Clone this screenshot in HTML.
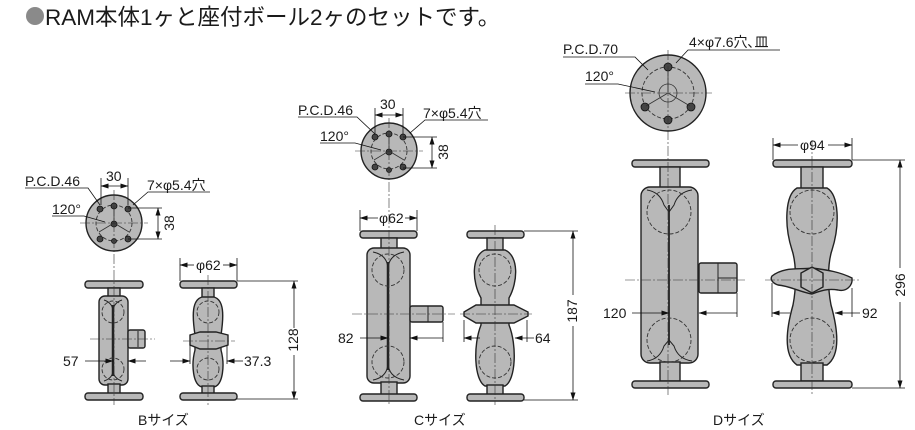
<!DOCTYPE html>
<html><head><meta charset="utf-8"><style>
html,body{margin:0;padding:0;background:#fff;}
svg{display:block}
text{font-family:"Liberation Sans","Noto Sans CJK JP",sans-serif;fill:#1a1a1a}
</style></head><body>
<svg width="915" height="430" viewBox="0 0 915 430" xmlns="http://www.w3.org/2000/svg">
<defs>
<marker id="a" markerWidth="8" markerHeight="6" refX="7.5" refY="3" orient="auto-start-reverse" markerUnits="userSpaceOnUse"><path d="M0,0.5 L8,3 L0,5.5z" fill="#111"/></marker>
</defs>
<circle cx="35" cy="16" r="9" fill="#8a8a8a"/>
<text x="45" y="25" font-size="22.5">RAM本体1ヶと座付ボール2ヶのセットです。</text>

<g stroke="#222" stroke-width="1.4" fill="#b8b8b8">
<circle cx="114" cy="223" r="28"/>
<rect x="85" y="281" width="58" height="7" rx="3"/>
<rect x="108" y="288" width="12" height="10"/>
<rect x="99" y="296" width="29" height="89" rx="6"/>
<rect x="128" y="330" width="17" height="18" rx="2"/>
<rect x="108" y="384" width="12" height="10"/>
<rect x="85" y="393" width="58" height="7" rx="3"/>
<rect x="180" y="281" width="57" height="7" rx="3"/>
<rect x="202" y="288" width="12" height="10"/>
<path d="M202,297 C192,300 192,315 195,335 L195,350 C191,365 193,385 202,387 L214,387 C223,385 225,365 221,350 L221,335 C224,315 224,300 214,297Z"/>
<path d="M190,335 L200,332 L216,332 L228,335 L228,345 L216,349 L200,349 L190,345Z"/>
<rect x="202" y="386" width="12" height="8"/>
<rect x="180" y="393" width="57" height="7" rx="3"/>

<circle cx="389" cy="151" r="28"/>
<rect x="360" y="231" width="57" height="7" rx="3"/>
<rect x="381" y="238" width="16" height="12"/>
<rect x="367" y="248" width="43" height="135" rx="7"/>
<rect x="410" y="306" width="33" height="16" rx="2"/>
<rect x="381" y="382" width="16" height="13"/>
<rect x="360" y="394" width="57" height="7" rx="3"/>
<rect x="467" y="231" width="57" height="7" rx="3"/>
<rect x="487" y="238" width="16" height="13"/>
<path d="M485,250 C471,256 472,282 481,298 L481,325 C473,345 474,380 485,386 L505,386 C516,380 517,345 509,325 L509,298 C518,282 519,256 505,250Z"/>
<path d="M464,312 L476,305 L514,305 L528,312 L528,316 L514,323 L476,323 L464,316Z"/>
<rect x="487" y="385" width="16" height="10"/>
<rect x="467" y="394" width="57" height="7" rx="3"/>

<circle cx="668" cy="93" r="38"/>
<rect x="632" y="160" width="77" height="7" rx="3"/>
<rect x="660" y="167" width="20" height="21"/>
<rect x="641" y="187" width="57" height="176" rx="9"/>
<rect x="699" y="263" width="38" height="30" rx="2"/>
<rect x="660" y="362" width="20" height="19"/>
<rect x="632" y="381" width="77" height="7" rx="3"/>
<rect x="773" y="160" width="79" height="7" rx="3"/>
<rect x="801" y="167" width="22" height="23"/>
<path d="M797,188 C785,195 784,225 792,250 C797,265 796,290 793,305 C786,330 783,355 797,365 L827,365 C841,355 838,330 831,305 C828,290 827,265 832,250 C840,225 839,195 827,188Z"/>
<path d="M772,276 C785,266 800,270 812,268 C828,270 840,272 852,278 C853,286 846,292 838,290 C826,288 818,292 812,294 C800,292 790,286 778,285 C772,283 770,279 772,276Z"/>
<polygon points="812,267 823,273 823,287 812,293 801,287 801,273"/>
<rect x="801" y="363" width="22" height="18"/>
<rect x="773" y="381" width="79" height="7" rx="3"/>
</g>

<g stroke="#222" stroke-width="1" fill="none">
<line x1="113" y1="305" x2="113" y2="376" stroke-width="2.5"/>
<path d="M104,300 Q113,303 113,312 M122,300 Q113,303 113,312 M104,381 Q113,378 113,370 M122,381 Q113,378 113,370"/>
<line x1="388" y1="262" x2="388" y2="370" stroke-width="2.5"/>
<path d="M373,252 Q388,255 388,270 M404,252 Q388,255 388,270 M373,380 Q388,377 388,362 M404,380 Q388,377 388,362"/>
<line x1="669" y1="205" x2="669" y2="345" stroke-width="1.8"/>
<path d="M647,190 Q660,192 664,205 L669,212 L674,205 Q678,192 692,190 M647,361 Q660,359 664,346 L669,340 L674,346 Q678,359 692,361"/>
<line x1="138" y1="331" x2="138" y2="347"/>
<line x1="428" y1="306" x2="428" y2="322"/>
<line x1="718" y1="263" x2="718" y2="293"/>
<path d="M718,278 L737,278"/>
</g>
<g stroke="#333" stroke-width="0.9" fill="none" stroke-dasharray="4,2">
<circle cx="113" cy="312" r="11"/><circle cx="113" cy="369" r="11"/>
<circle cx="208" cy="312" r="11"/><circle cx="208" cy="369" r="11"/>
<circle cx="388" cy="270" r="16"/><circle cx="388" cy="362" r="16"/>
<circle cx="495" cy="270" r="16"/><circle cx="495" cy="362" r="16"/>
<circle cx="669" cy="212" r="22"/><circle cx="669" cy="340" r="22"/>
<circle cx="812" cy="212" r="22"/><circle cx="812" cy="340" r="22"/>
<circle cx="114" cy="223" r="18"/><circle cx="389" cy="151" r="18"/><circle cx="668" cy="93" r="26"/>
</g>
<g fill="#444" stroke="#111" stroke-width="0.8">
<circle cx="100" cy="209" r="3"/><circle cx="114" cy="206" r="3"/><circle cx="128" cy="209" r="3"/>
<circle cx="114" cy="224" r="3"/><circle cx="100" cy="239" r="3"/><circle cx="128" cy="239" r="3"/><circle cx="114" cy="241" r="2.5"/>
<circle cx="375" cy="137" r="3"/><circle cx="389" cy="134" r="3"/><circle cx="403" cy="137" r="3"/>
<circle cx="389" cy="152" r="3"/><circle cx="375" cy="167" r="3"/><circle cx="403" cy="167" r="3"/><circle cx="389" cy="170" r="2.5"/>
<circle cx="668" cy="67" r="4"/><circle cx="645" cy="107" r="4"/><circle cx="691" cy="107" r="4"/><circle cx="668" cy="120" r="4"/>
</g>
<g stroke="#333" stroke-width="0.8" fill="none">
<path d="M114,223 L114,206 M114,223 L99,232 M114,223 L129,232"/>
<path d="M389,151 L389,134 M389,151 L374,160 M389,151 L404,160"/>
<circle cx="668" cy="93" r="9"/>
<path d="M668,93 L668,68 M668,93 L646,106 M668,93 L690,106"/>
</g>

<g stroke="#333" stroke-width="0.6" fill="none" stroke-dasharray="10,2,2,2">
<line x1="114" y1="190" x2="114" y2="405"/><line x1="80" y1="223" x2="148" y2="223"/>
<line x1="208" y1="275" x2="208" y2="405"/>
<line x1="90" y1="339" x2="155" y2="339"/><line x1="183" y1="341" x2="235" y2="341"/>
<line x1="389" y1="118" x2="389" y2="405"/><line x1="355" y1="151" x2="423" y2="151"/>
<line x1="495" y1="225" x2="495" y2="405"/>
<line x1="352" y1="314" x2="455" y2="314"/><line x1="460" y1="314" x2="532" y2="314"/>
<line x1="668" y1="50" x2="668" y2="395"/><line x1="625" y1="93" x2="712" y2="93"/>
<line x1="812" y1="140" x2="812" y2="395"/>
<line x1="625" y1="280" x2="745" y2="280"/><line x1="765" y1="280" x2="860" y2="280"/>
</g>

<g stroke="#111" stroke-width="0.8" fill="none">
<path d="M25,188 L88,188 L100,205"/>
<path d="M52,216 L84,216 L105,222"/>
<line x1="101" y1="178" x2="101" y2="205"/><line x1="128" y1="178" x2="128" y2="205"/>
<line x1="101" y1="186" x2="128" y2="186" marker-start="url(#a)" marker-end="url(#a)"/>
<path d="M210,192 L148,192 L133,205"/>
<line x1="128" y1="208" x2="162" y2="208"/><line x1="128" y1="239" x2="162" y2="239"/>
<line x1="158" y1="208" x2="158" y2="239" marker-start="url(#a)" marker-end="url(#a)"/>
<line x1="180" y1="258" x2="180" y2="281"/><line x1="237" y1="258" x2="237" y2="281"/>
<line x1="180" y1="265" x2="194" y2="265" marker-start="url(#a)"/><line x1="223" y1="265" x2="237" y2="265" marker-end="url(#a)"/>
<line x1="85" y1="361" x2="113" y2="361" marker-end="url(#a)"/><line x1="128" y1="361" x2="146" y2="361" marker-start="url(#a)"/>
<line x1="170" y1="361" x2="190" y2="361" marker-end="url(#a)"/><line x1="227" y1="361" x2="243" y2="361" marker-start="url(#a)"/>
<line x1="190" y1="345" x2="190" y2="364"/><line x1="227" y1="345" x2="227" y2="364"/>
<line x1="237" y1="281" x2="298" y2="281"/><line x1="237" y1="399" x2="298" y2="399"/>
<line x1="294" y1="281" x2="294" y2="328" marker-start="url(#a)"/><line x1="294" y1="355" x2="294" y2="399" marker-end="url(#a)"/>
<path d="M298,117 L357,117 L375,134"/>
<path d="M320,143 L355,143 L381,150"/>
<line x1="375" y1="108" x2="375" y2="134"/><line x1="403" y1="108" x2="403" y2="134"/>
<line x1="375" y1="115" x2="403" y2="115" marker-start="url(#a)" marker-end="url(#a)"/>
<path d="M488,120 L425,120 L410,133"/>
<line x1="403" y1="137" x2="437" y2="137"/><line x1="403" y1="168" x2="437" y2="168"/>
<line x1="432" y1="137" x2="432" y2="168" marker-start="url(#a)" marker-end="url(#a)"/>
<line x1="360" y1="210" x2="360" y2="231"/><line x1="417" y1="210" x2="417" y2="231"/>
<line x1="360" y1="218" x2="378" y2="218" marker-start="url(#a)"/><line x1="405" y1="218" x2="417" y2="218" marker-end="url(#a)"/>
<line x1="360" y1="338" x2="388" y2="338" marker-end="url(#a)"/><line x1="410" y1="338" x2="443" y2="338" marker-start="url(#a)"/>
<line x1="443" y1="322" x2="443" y2="342"/>
<line x1="464" y1="320" x2="464" y2="342"/><line x1="527" y1="320" x2="527" y2="342"/>
<line x1="464" y1="338" x2="480" y2="338" marker-start="url(#a)"/><line x1="515" y1="338" x2="534" y2="338" marker-start="url(#a)"/>
<line x1="524" y1="231" x2="578" y2="231"/><line x1="524" y1="400" x2="578" y2="400"/>
<line x1="573" y1="231" x2="573" y2="295" marker-start="url(#a)"/><line x1="573" y1="326" x2="573" y2="400" marker-end="url(#a)"/>
<path d="M563,57 L635,57 L648,70"/>
<path d="M585,84 L618,84 L655,92"/>
<path d="M780,50 L688,50 L676,63"/>
<line x1="773" y1="138" x2="773" y2="160"/><line x1="852" y1="138" x2="852" y2="160"/>
<line x1="773" y1="145" x2="798" y2="145" marker-start="url(#a)"/><line x1="828" y1="145" x2="852" y2="145" marker-end="url(#a)"/>
<line x1="632" y1="313" x2="669" y2="313" marker-end="url(#a)"/><line x1="699" y1="313" x2="737" y2="313" marker-start="url(#a)"/>
<line x1="737" y1="293" x2="737" y2="317"/>
<line x1="772" y1="283" x2="772" y2="317"/><line x1="852" y1="288" x2="852" y2="317"/>
<line x1="772" y1="313" x2="790" y2="313" marker-start="url(#a)"/><line x1="835" y1="313" x2="860" y2="313" marker-start="url(#a)"/>
<line x1="852" y1="160" x2="905" y2="160"/><line x1="852" y1="388" x2="905" y2="388"/>
<line x1="900" y1="160" x2="900" y2="268" marker-start="url(#a)"/><line x1="900" y1="302" x2="900" y2="388" marker-end="url(#a)"/>
</g>

<g font-size="14">
<text x="25" y="186">P.C.D.46</text>
<text x="106" y="181">30</text>
<text x="147" y="190">7×φ5.4穴</text>
<text x="52" y="214">120°</text>
<text transform="translate(174,223) rotate(-90)" text-anchor="middle">38</text>
<text x="196" y="270">φ62</text>
<text x="63" y="366">57</text>
<text x="244" y="366">37.3</text>
<text transform="translate(298,340) rotate(-90)" text-anchor="middle">128</text>
<text x="138" y="425">Bサイズ</text>
<text x="298" y="115">P.C.D.46</text>
<text x="380" y="109">30</text>
<text x="423" y="118">7×φ5.4穴</text>
<text x="320" y="141">120°</text>
<text transform="translate(448,152) rotate(-90)" text-anchor="middle">38</text>
<text x="379" y="223">φ62</text>
<text x="338" y="343">82</text>
<text x="535" y="343">64</text>
<text transform="translate(577,311) rotate(-90)" text-anchor="middle">187</text>
<text x="414" y="425">Cサイズ</text>
<text x="563" y="54">P.C.D.70</text>
<text x="689" y="47">4×φ7.6穴､皿</text>
<text x="585" y="81">120°</text>
<text x="800" y="150">φ94</text>
<text x="603" y="318">120</text>
<text x="862" y="318">92</text>
<text transform="translate(905,285) rotate(-90)" text-anchor="middle">296</text>
<text x="713" y="425">Dサイズ</text>
</g>
</svg>
</body></html>
